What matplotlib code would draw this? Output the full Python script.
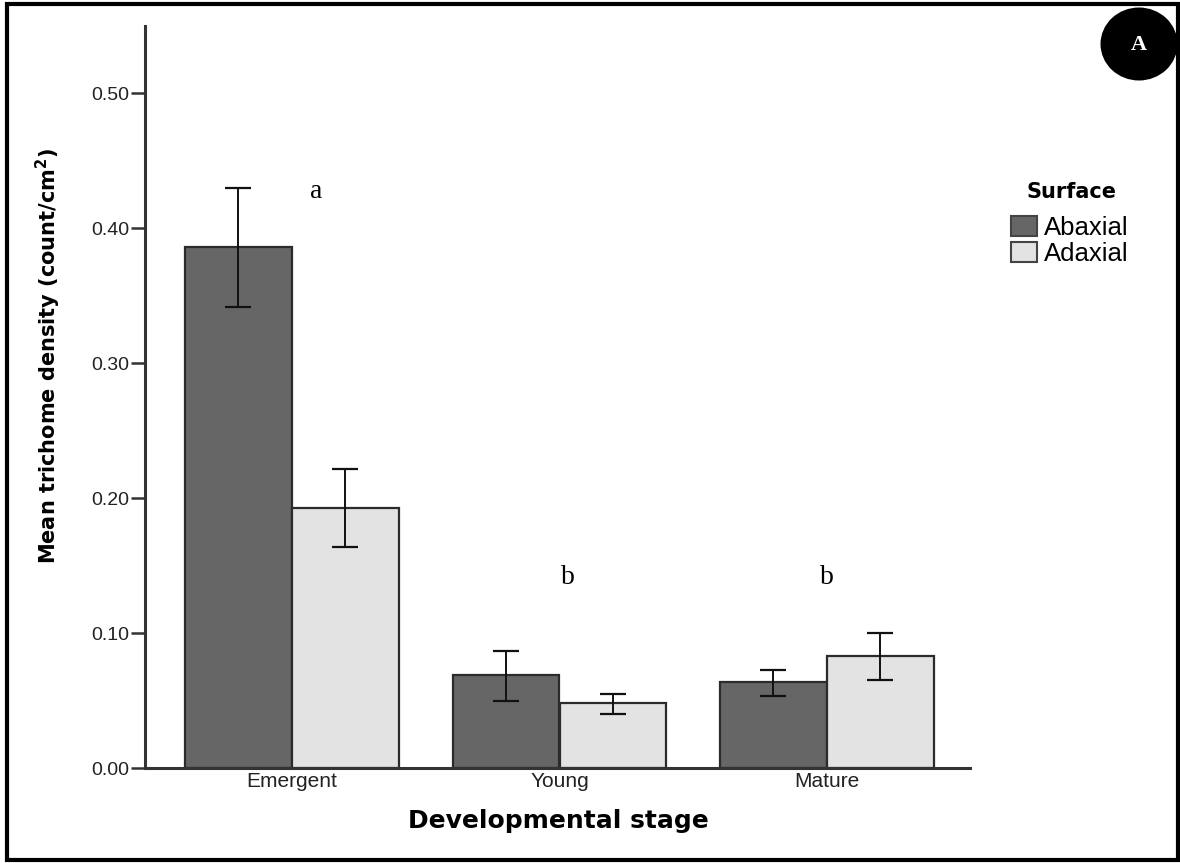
import matplotlib
matplotlib.use("Agg")
import matplotlib.pyplot as plt
import numpy as np
from matplotlib.patches import Ellipse, Rectangle, Patch

# data
stages = ["Emergent", "Young", "Mature"]
surfaces = ["Abaxial", "Adaxial"]
abaxial_mean = [0.386, 0.069, 0.064]
abaxial_lo = [0.342, 0.050, 0.053]
abaxial_hi = [0.430, 0.087, 0.073]
adaxial_mean = [0.193, 0.048, 0.083]
adaxial_lo = [0.164, 0.040, 0.065]
adaxial_hi = [0.222, 0.055, 0.100]
sig_letters = ["a", "b", "b"]
y_ticks = [0.0, 0.1, 0.2, 0.3, 0.4, 0.5]

colors = {"Abaxial": "#666666", "Adaxial": "#e3e3e3"}
edge = "#2b2b2b"

W, H = 1180, 863
fig = plt.figure(figsize=(W / 100, H / 100), dpi=100)

# axes placed in pixel terms of the reference
ax = fig.add_axes([145 / W, 1 - 768 / H, (970 - 145) / W, (768 - 26) / H])

x = np.arange(len(stages))
width = 0.398
offset = 0.2

series = [
    ("Abaxial", abaxial_mean, abaxial_lo, abaxial_hi, -offset),
    ("Adaxial", adaxial_mean, adaxial_lo, adaxial_hi, offset),
]
for name, mean, lo, hi, off in series:
    mean = np.array(mean)
    err = [mean - np.array(lo), np.array(hi) - mean]
    ax.bar(x + off, mean, width, color=colors[name], edgecolor=edge,
           linewidth=1.6, zorder=2)
    ax.errorbar(x + off, mean, yerr=err, fmt="none", ecolor="#111111",
                elinewidth=1.4, capsize=9.5, capthick=1.6, zorder=3)

ax.set_xlim(-0.5495, 2.5346)
ax.set_ylim(0, 0.55)
ax.set_yticks(y_ticks)
ax.set_yticklabels([f"{v:.2f}" for v in y_ticks], fontsize=14,
                   family="Liberation Sans", color="#222222")
ax.set_xticks(x)
ax.set_xticklabels(stages, fontsize=15, family="Liberation Sans",
                   color="#222222")
ax.tick_params(axis="y", length=10, width=1.8, color="#333333", pad=1)
ax.tick_params(axis="x", length=0, pad=3)

for side in ("top", "right"):
    ax.spines[side].set_visible(False)
for side in ("left", "bottom"):
    ax.spines[side].set_color("#333333")
    ax.spines[side].set_linewidth(2.2)

# significance letters (offset from group centre, height in data units)
letter_pos = [(0.09, 0.427), (0.03, 0.141), (0.0, 0.141)]
for i, ((lx, ly), letter) in enumerate(zip(letter_pos, sig_letters)):
    ax.text(x[i] + lx, ly, letter, fontsize=20, family="Liberation Serif",
            ha="center", va="center")

# axis titles
fig.text(558 / W, 1 - 821 / H, "Developmental stage", fontsize=18,
         fontweight="bold", family="DejaVu Sans", ha="center", va="center")
fig.text(48 / W, 1 - 356 / H, "Mean trichome density (count/cm$^\\mathbf{2}$)",
         fontsize=15, fontweight="bold", family="DejaVu Sans",
         rotation=90, ha="center", va="center")

# legend
handles = [Patch(facecolor=colors[s], edgecolor="#444444", linewidth=1.5)
           for s in surfaces]
leg = fig.legend(handles, surfaces, loc="upper left",
                 bbox_to_anchor=(1011 / W, 1 - 216 / H),
                 frameon=False,
                 prop={"family": "Liberation Sans", "size": 18.5},
                 handlelength=1.0, handleheight=0.85, handletextpad=0.3,
                 labelspacing=0.06, borderpad=0, borderaxespad=0)
fig.text(1071 / W, 1 - 192 / H, "Surface", fontsize=15, fontweight="bold",
         family="DejaVu Sans", ha="center", va="center")

# panel badge
badge = Ellipse((1139 / W, 1 - 44 / H), 77 / W, 73 / H,
                transform=fig.transFigure, facecolor="black", zorder=5)
fig.patches.append(badge)
fig.text(1139 / W, 1 - 45 / H, "A", color="white", fontsize=16,
         fontweight="bold", family="Liberation Serif",
         ha="center", va="center", zorder=6)

# outer frame
frame = Rectangle((6.5 / W, 3 / H), (1177.5 - 6.5) / W, (856 - 0) / H,
                  transform=fig.transFigure, fill=False,
                  edgecolor="black", linewidth=3, zorder=7)
fig.patches.append(frame)

fig.savefig("out.png", dpi=100)
